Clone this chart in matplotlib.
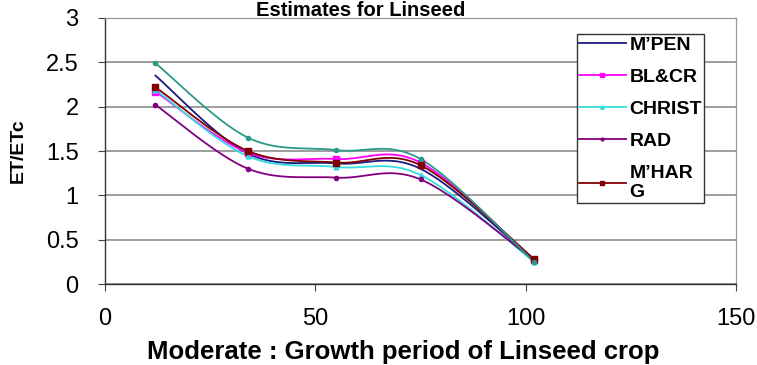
import numpy as np
import matplotlib
matplotlib.use("Agg")
import matplotlib.pyplot as plt

plt.rcParams['font.family'] = ['Liberation Sans', 'DejaVu Sans']

days = [12, 34, 55, 75, 102]
m_pen = [2.35, 1.47, 1.36, 1.30, 0.27]
bl_cr = [2.17, 1.48, 1.41, 1.37, 0.27]
christ = [2.19, 1.44, 1.32, 1.23, 0.25]
rad = [2.02, 1.30, 1.20, 1.18, 0.27]
m_harg = [2.22, 1.50, 1.37, 1.34, 0.28]
extra = [2.49, 1.65, 1.51, 1.41, 0.25]   # sixth series, legend entry cut off

series = [
    ("M\u2019PEN", m_pen, "#1a1a80", None, 0),
    ("BL&CR", bl_cr, "#ff00ff", "s", 4),
    ("CHRIST", christ, "#33dddd", "^", 3.5),
    ("RAD", rad, "#800080", "o", 3),
    ("M\u2019HAR\nG", m_harg, "#800000", "s", 4),
    ("_nolegend_", extra, "#2a9a88", "o", 3),
]


def smooth(xs, ys, n=40):
    # Excel-style smoothed line: Catmull-Rom curve drawn as cubic Beziers
    p = np.column_stack([xs, ys]).astype(float)
    p = np.vstack([p[0], p, p[-1]])
    out = []
    for i in range(1, len(p) - 2):
        p0, p1, p2, p3 = p[i - 1], p[i], p[i + 1], p[i + 2]
        c1 = p1 + (p2 - p0) / 6
        c2 = p2 - (p3 - p1) / 6
        t = np.linspace(0, 1, n)[:, None]
        seg = ((1 - t) ** 3 * p1 + 3 * (1 - t) ** 2 * t * c1
               + 3 * (1 - t) * t ** 2 * c2 + t ** 3 * p2)
        out.append(seg if i == 1 else seg[1:])
    out = np.vstack(out)
    return out[:, 0], out[:, 1]


fig = plt.figure(figsize=(7.57, 3.65), dpi=100)
ax = fig.add_axes([0.1387, 0.2219, 0.8336, 0.7288])

for label, vals, color, marker, ms in series:
    sx, sy = smooth(days, vals)
    ax.plot(sx, sy, color=color, lw=1.3, zorder=3)
    ax.plot(days, vals, linestyle='none', marker=marker, ms=ms,
            color=color, zorder=4)
    if label != "_nolegend_":
        ax.plot([], [], color=color, lw=1.3, marker=marker, ms=ms - 1 if ms else 0,
                label=label)

ax.set_xlim(0, 150)
ax.set_ylim(0, 3)
ax.set_xticks([0, 50, 100, 150])
ax.set_yticks([0, 0.5, 1, 1.5, 2, 2.5, 3])
ax.set_yticklabels(["0", "0.5", "1", "1.5", "2", "2.5", "3"])
ax.grid(axis='y', color='#8c8c8c', lw=1.2, zorder=1)
ax.tick_params(labelsize=17, length=5, color='#444444')
ax.tick_params(axis='x', pad=12)
ax.tick_params(axis='y', pad=14)

for side in ['top', 'right']:
    ax.spines[side].set_color('#999999')
    ax.spines[side].set_linestyle((0, (1, 1)))
    ax.spines[side].set_linewidth(0.9)
for side in ['left', 'bottom']:
    ax.spines[side].set_color('#333333')
    ax.spines[side].set_linewidth(1.0)

fig.text(0.532, 0.036, "Moderate : Growth period of Linseed crop",
         ha='center', va='center', fontsize=18.5, fontweight='bold')
ax.set_ylabel("ET/ETc", fontsize=14, fontweight='bold', labelpad=14)
fig.text(0.477, 0.997, "Estimates for Linseed", ha='center', va='top',
         fontsize=14.5, fontweight='bold')

leg = ax.legend(loc='upper left', bbox_to_anchor=(0.748, 0.94),
                prop={'weight': 'bold', 'size': 14},
                frameon=True, fancybox=False, handlelength=2.4,
                handletextpad=0.2, labelspacing=0.75, borderpad=0.1,
                borderaxespad=0)
leg.get_frame().set_edgecolor('#333333')
leg.get_frame().set_linewidth(1.0)
leg.get_frame().set_alpha(1)
leg.set_zorder(5)

fig.savefig("out.png", dpi=100)
